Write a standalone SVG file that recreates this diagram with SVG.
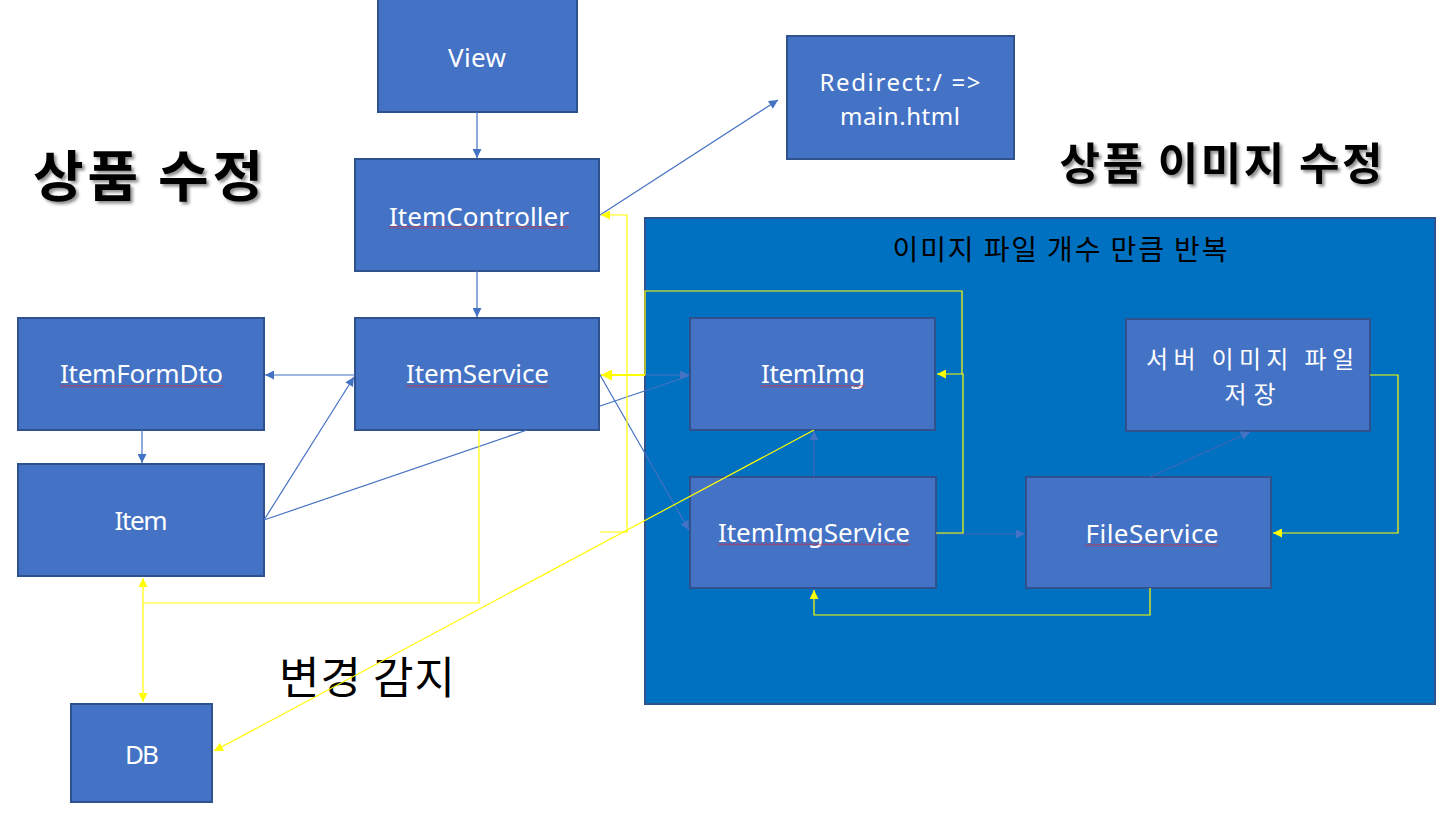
<svg xmlns="http://www.w3.org/2000/svg" width="1450" height="816" viewBox="0 0 1450 816">
<defs>
<style>
.box{fill:#4472C4;stroke:#2F528F;stroke-width:2}
.lbl{font-family:"Noto Sans","Open Sans","Liberation Sans",sans-serif;font-size:26px;fill:#ffffff;text-anchor:middle}
.sm{font-size:24px}
.kr{font-family:"Noto Sans CJK KR","Noto Sans",sans-serif}
.b{fill:none;stroke:#4472C4;stroke-width:1.2}
.bi{fill:none;stroke:#3F66B8;stroke-width:1.2}
.y{fill:none;stroke:#FFFF00;stroke-width:1.2}
.title{font-family:"Noto Sans CJK KR",sans-serif;font-weight:bold;fill:#000000;text-anchor:middle}
.sq{fill:url(#sq)}
</style>
<marker id="ab" viewBox="0 0 10 10" refX="10" refY="5" markerUnits="userSpaceOnUse" markerWidth="10" markerHeight="9" orient="auto"><path d="M0,0 L10,5 L0,10 z" fill="#4472C4"/></marker>
<marker id="ay" viewBox="0 0 10 10" refX="10" refY="5" markerUnits="userSpaceOnUse" markerWidth="10" markerHeight="9" orient="auto"><path d="M0,0 L10,5 L0,10 z" fill="#FFFF00"/></marker>
<marker id="ayb" viewBox="0 0 10 10" refX="10" refY="5" markerUnits="userSpaceOnUse" markerWidth="12" markerHeight="11" orient="auto"><path d="M0,0 L10,5 L0,10 z" fill="#FFFF00"/></marker>
<marker id="ay2" viewBox="0 0 10 10" refX="10" refY="5" markerUnits="userSpaceOnUse" markerWidth="10" markerHeight="9" orient="auto-start-reverse"><path d="M0,0 L10,5 L0,10 z" fill="#FFFF00"/></marker>
<pattern id="sq" patternUnits="userSpaceOnUse" x="0" y="0" width="4" height="3"><path d="M0,2.5 L2,0.5 L4,2.5" fill="none" stroke="#E02020" stroke-width="0.9"/></pattern>
<filter id="sh" x="-10%" y="-20%" width="130%" height="150%"><feDropShadow dx="2.5" dy="2.5" stdDeviation="1.6" flood-color="#000000" flood-opacity="0.45"/></filter>
</defs>
<rect width="1450" height="816" fill="#ffffff"/>

<g id="titles">
<text class="title" x="148" y="196" font-size="55" filter="url(#sh)" textLength="230">상품 수정</text>
<text class="title" x="1221" y="180" font-size="44" filter="url(#sh)" textLength="323">상품 이미지 수정</text>
<text x="367" y="694" font-family="Noto Sans CJK KR, sans-serif" font-size="44" fill="#000000" text-anchor="middle" textLength="176">변경 감지</text>
</g>

<g id="container">
<rect x="645" y="218" width="790" height="486" fill="#0070C0" stroke="#2F528F" stroke-width="2"/>
<text x="1060" y="260" font-family="Noto Sans CJK KR, sans-serif" font-size="28" fill="#000000" text-anchor="middle" textLength="335">이미지 파일 개수 만큼 반복</text>
</g>

<g id="view">
<rect class="box" x="378" y="-1" width="199" height="113"/>
<text class="lbl" x="477" y="67" textLength="58">View</text>
</g>
<g id="redirect">
<rect class="box" x="787" y="36" width="227" height="123"/>
<text class="lbl sm" x="900" y="91" textLength="161">Redirect:/ =&gt;</text>
<text class="lbl sm" x="900" y="125" textLength="120">main.html</text>
</g>
<g id="itemcontroller">
<rect class="box" x="355" y="159" width="244" height="112"/>
<text class="lbl" x="479" y="226" textLength="180">ItemController</text>
<rect class="sq" x="389" y="226" width="180" height="3"/>
</g>
<g id="itemservice">
<rect class="box" x="355" y="318" width="244" height="112"/>
<text class="lbl" x="477.5" y="383" textLength="143">ItemService</text>
<rect class="sq" x="406" y="385" width="143" height="3"/>
</g>
<g id="itemformdto">
<rect class="box" x="18" y="318" width="246" height="112"/>
<text class="lbl" x="141.5" y="383" textLength="163">ItemFormDto</text>
<rect class="sq" x="60" y="385" width="163" height="3"/>
</g>
<g id="item">
<rect class="box" x="18" y="464" width="246" height="112"/>
<text class="lbl" x="141" y="530" textLength="53">Item</text>
</g>
<g id="db">
<rect class="box" x="71" y="704" width="141" height="98"/>
<text class="lbl" x="142" y="764" textLength="34">DB</text>
</g>
<g id="itemimg">
<rect class="box" x="690" y="318" width="245" height="112"/>
<text class="lbl" x="813" y="383" textLength="104">ItemImg</text>
<rect class="sq" x="761" y="385" width="104" height="3"/>
</g>
<g id="itemimgservice">
<rect class="box" x="690" y="477" width="246" height="111"/>
<text class="lbl" x="814" y="542" textLength="192">ItemImgService</text>
<rect class="sq" x="718" y="543" width="192" height="3"/>
</g>
<g id="fileservice">
<rect class="box" x="1026" y="477" width="245" height="111"/>
<text class="lbl" x="1152" y="543" textLength="133">FileService</text>
<rect class="sq" x="1085" y="544" width="133" height="3"/>
</g>
<g id="serversave">
<rect class="box" x="1126" y="319" width="244" height="112"/>
<text class="lbl kr sm" x="1250" y="368" textLength="208">서버 이미지 파일</text>
<text class="lbl kr sm" x="1250" y="403" textLength="51">저장</text>
</g>

<g id="connectors">
<path class="b" d="M477,112 V158" marker-end="url(#ab)"/>
<path class="b" d="M477,271 V317" marker-end="url(#ab)"/>
<path class="b" d="M355,375 H265" marker-end="url(#ab)"/>
<path class="b" d="M142,430 V463" marker-end="url(#ab)"/>
<path class="b" d="M264,520 L354,377" marker-end="url(#ab)"/>
<path class="b" d="M264,520 L527,430"/>
<path class="b" d="M600,215 L778,100" marker-end="url(#ab)"/>
<path class="b" d="M600,375 H689" marker-end="url(#ab)"/>
<path class="b" d="M600,406 L689,376"/>
<path class="b" d="M600,375 L689,530" marker-end="url(#ab)"/>
<path class="bi" d="M814,477 V431" marker-end="url(#ab)"/>
<path class="bi" d="M936,534 H1025" marker-end="url(#ab)"/>
<path class="bi" d="M1150,477 L1250,432" marker-end="url(#ab)"/>

<path class="y" d="M600,532 H627 V215 H601" marker-end="url(#ay)"/>
<path class="y" d="M936,533 H963 V374 H937" marker-end="url(#ay)"/>
<path class="y" d="M962,374 V291 H645 V375"/>
<path fill="none" stroke="#FFFF00" stroke-width="2" d="M645,375 H601" marker-end="url(#ayb)"/>
<path class="y" d="M479,430 V603 H143"/>
<path class="y" d="M143,578 V702" marker-start="url(#ay2)" marker-end="url(#ay2)"/>
<path class="y" d="M814,430 L214,751" marker-end="url(#ay)"/>
<path class="y" d="M1150,588 V615 H814 V590" marker-end="url(#ay)"/>
<path class="y" d="M1370,375 H1398 V533 H1273" marker-end="url(#ay)"/>
</g>
</svg>
